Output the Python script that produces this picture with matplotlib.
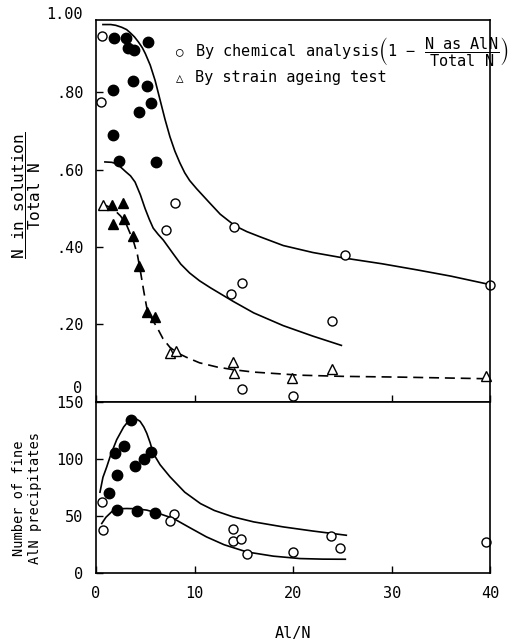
import numpy as np
import matplotlib.pyplot as plt

plt.rcParams['font.family'] = ['DejaVu Sans Mono', 'DejaVu Sans']
plt.rcParams['mathtext.fontset'] = 'dejavusans'

# ---- top panel: fraction of N in solution ----
chem_open_x = [0.6, 0.5, 8.0, 7.1, 14.0, 14.8, 13.7, 14.85, 25.3, 40.0, 23.9, 20.0]
chem_open_y = [0.945, 0.775, 0.515, 0.443, 0.451, 0.307, 0.278, 0.033, 0.379, 0.302, 0.208, 0.015]
chem_fill_x = [1.8, 3.05, 3.2, 3.9, 5.25, 3.8, 1.7, 5.15, 5.6, 4.4, 1.7, 2.3, 6.1]
chem_fill_y = [0.94, 0.94, 0.915, 0.91, 0.93, 0.83, 0.807, 0.815, 0.772, 0.75, 0.69, 0.623, 0.619]

strain_open_x = [0.75, 7.5, 8.1, 13.9, 14.0, 19.9, 23.9, 39.6]
strain_open_y = [0.508, 0.126, 0.132, 0.103, 0.075, 0.062, 0.084, 0.067]
strain_fill_x = [1.6, 2.7, 1.75, 2.85, 3.7, 4.35, 5.2, 6.0]
strain_fill_y = [0.51, 0.513, 0.459, 0.473, 0.429, 0.35, 0.232, 0.22]

upper_x = [0.7, 1.5, 2.0, 2.6, 3.1, 3.5, 3.9, 4.3, 4.7, 5.0, 5.5, 6.0, 6.5, 7.0, 7.5, 8.0,
           8.5, 9.0, 9.5, 10.2, 11.5, 12.6, 14.1, 15.3, 16.6, 19, 22, 25.1, 29, 32.6, 36, 40]
upper_y = [0.975, 0.975, 0.973, 0.968, 0.962, 0.953, 0.943, 0.93, 0.915, 0.9, 0.87, 0.83,
           0.78, 0.73, 0.685, 0.648, 0.618, 0.592, 0.572, 0.551, 0.515, 0.485, 0.455, 0.44,
           0.427, 0.404, 0.386, 0.372, 0.357, 0.341, 0.325, 0.303]
middle_x = [0.9, 1.6, 2.1, 2.44, 3.0, 3.5, 3.96, 4.5, 4.97, 5.4, 5.8, 6.3, 6.83, 7.85, 8.6,
            9.5, 10.5, 11.6, 13.9, 16, 19, 22, 24.9]
middle_y = [0.62, 0.619, 0.615, 0.608, 0.595, 0.584, 0.568, 0.535, 0.5, 0.472, 0.449, 0.433,
            0.418, 0.382, 0.356, 0.333, 0.313, 0.295, 0.26, 0.23, 0.197, 0.17, 0.146]
dash_x = [0.75, 1.7, 2.5, 3.1, 3.8, 4.2, 4.5, 4.85, 5.15, 5.7, 6.2, 6.8, 7.5, 8.3, 9.2, 10.5,
          12.3, 14, 16, 20.7, 25, 30.9, 39.3]
dash_y = [0.51, 0.5, 0.48, 0.457, 0.415, 0.38, 0.338, 0.285, 0.243, 0.213, 0.192, 0.163,
          0.141, 0.126, 0.115, 0.101, 0.09, 0.083, 0.077, 0.069, 0.066, 0.064, 0.06]

# ---- bottom panel: number of fine AlN precipitates ----
num_open_x = [0.58, 0.68, 7.95, 7.5, 13.9, 13.9, 14.7, 15.3, 20.0, 23.8, 24.8, 39.6]
num_open_y = [62, 37.7, 51.5, 45.6, 39.2, 28.1, 29.8, 17.2, 18.7, 32.4, 22.2, 27.5]
num_fill_x = [3.55, 2.8, 1.93, 2.16, 1.32, 5.58, 4.87, 3.93, 2.16, 4.13, 6.0]
num_fill_y = [134, 111, 105.5, 86, 70.5, 106, 99.7, 93.6, 55.3, 54.4, 52.4]

num_up_x = [0.4, 0.7, 1.08, 1.5, 2.1, 2.8, 3.45, 4.0, 4.47, 4.85, 5.15, 5.5, 5.8, 6.5, 7.5,
            9, 10.6, 12, 13.9, 16, 19, 22, 25.4]
num_up_y = [71, 84, 93, 104, 117, 128, 135, 135.5, 133, 128, 122.5, 114, 105, 95, 84.5,
            71, 61, 55, 49.4, 45, 40.6, 37, 33.3]
num_low_x = [0.58, 1.0, 1.76, 2.4, 3.1, 4.0, 5.15, 6.5, 7.85, 9.5, 11.2, 13, 15.3, 18, 20.7, 23, 25.3]
num_low_y = [43.6, 49, 55.3, 56.5, 56.7, 56.5, 55.3, 52, 48, 40, 31.9, 25, 18.7, 15, 12.9, 12.4, 12.3]

fig = plt.figure(figsize=(5.22, 6.42), dpi=100)
ax1 = fig.add_axes([0.184, 0.374, 0.755, 0.595])
ax2 = fig.add_axes([0.184, 0.107, 0.755, 0.267], sharex=ax1)

lw = 1.2
ax1.plot(upper_x, upper_y, color='black', lw=lw)
ax1.plot(middle_x, middle_y, color='black', lw=lw)
ax1.plot(dash_x, dash_y, color='black', lw=lw, ls=(0, (6, 3.5)))
ax1.plot(chem_open_x, chem_open_y, 'o', ms=6.5, mfc='white', mec='black', mew=1, clip_on=False)
ax1.plot(chem_fill_x, chem_fill_y, 'o', ms=7.5, color='black', clip_on=False)
ax1.plot(strain_open_x, strain_open_y, '^', ms=7, mfc='white', mec='black', mew=1, clip_on=False)
ax1.plot(strain_fill_x, strain_fill_y, '^', ms=7.5, color='black', clip_on=False)

ax2.plot(num_up_x, num_up_y, color='black', lw=lw)
ax2.plot(num_low_x, num_low_y, color='black', lw=lw)
ax2.plot(num_open_x, num_open_y, 'o', ms=6.5, mfc='white', mec='black', mew=1, clip_on=False)
ax2.plot(num_fill_x, num_fill_y, 'o', ms=7.5, color='black', clip_on=False)

ax1.set_xlim(0, 40)
ax1.set_ylim(0, 0.987)
ax2.set_ylim(0, 150)

ax1.set_yticks([0.2, 0.4, 0.6, 0.8])
ax1.set_yticklabels(['.20', '.40', '.60', '.80'])
ax1.text(-0.035, 1.0, '1.00', transform=ax1.get_yaxis_transform(), ha='right', va='center',
         fontsize=11, clip_on=False)
ax1.text(-0.035, 0.035, '0', transform=ax1.get_yaxis_transform(), ha='right', va='center',
         fontsize=11, clip_on=False)
ax2.set_yticks([0, 50, 100, 150])
ax2.set_xticks([0, 10, 20, 30, 40])

for ax in (ax1, ax2):
    ax.tick_params(direction='in', length=5, width=1, labelsize=11, pad=9,
                   top=False, right=False)
    for s in ax.spines.values():
        s.set_linewidth(1.2)
ax1.tick_params(axis='x', labelbottom=False)

ax2.set_xlabel('Al/N', fontsize=11, labelpad=18)

sp = r'\ \;'
fig.text(0.05, 0.695,
         r'$\dfrac{\mathtt{N}' + sp + r'\mathtt{in}' + sp + r'\mathtt{solution}}{\mathtt{Total}'
         + sp + r'\mathtt{N}}$',
         rotation=90, ha='center', va='center', fontsize=11.5)
fig.text(0.052, 0.224, 'Number of fine\nAlN precipitates', rotation=90,
         ha='center', va='center', fontsize=9.8, linespacing=1.15)

ax1.text(0.213, 0.916, '○', transform=ax1.transAxes, fontsize=9, ha='center', va='center')
ax1.text(0.25, 0.916,
         r'By chemical analysis$\left(\mathtt{1}' + sp + r'\mathtt{-}' + sp
         + r'\dfrac{\mathtt{N}' + sp + r'\mathtt{as}' + sp + r'\mathtt{AlN}}{\mathtt{Total}'
         + sp + r'\mathtt{N}}\right)$',
         transform=ax1.transAxes, fontsize=11, ha='left', va='center')
ax1.text(0.213, 0.848, '△', transform=ax1.transAxes, fontsize=9, ha='center', va='center')
ax1.text(0.25, 0.848, 'By strain ageing test', transform=ax1.transAxes, fontsize=11,
         ha='left', va='center')

fig.savefig('out.png', dpi=100)
